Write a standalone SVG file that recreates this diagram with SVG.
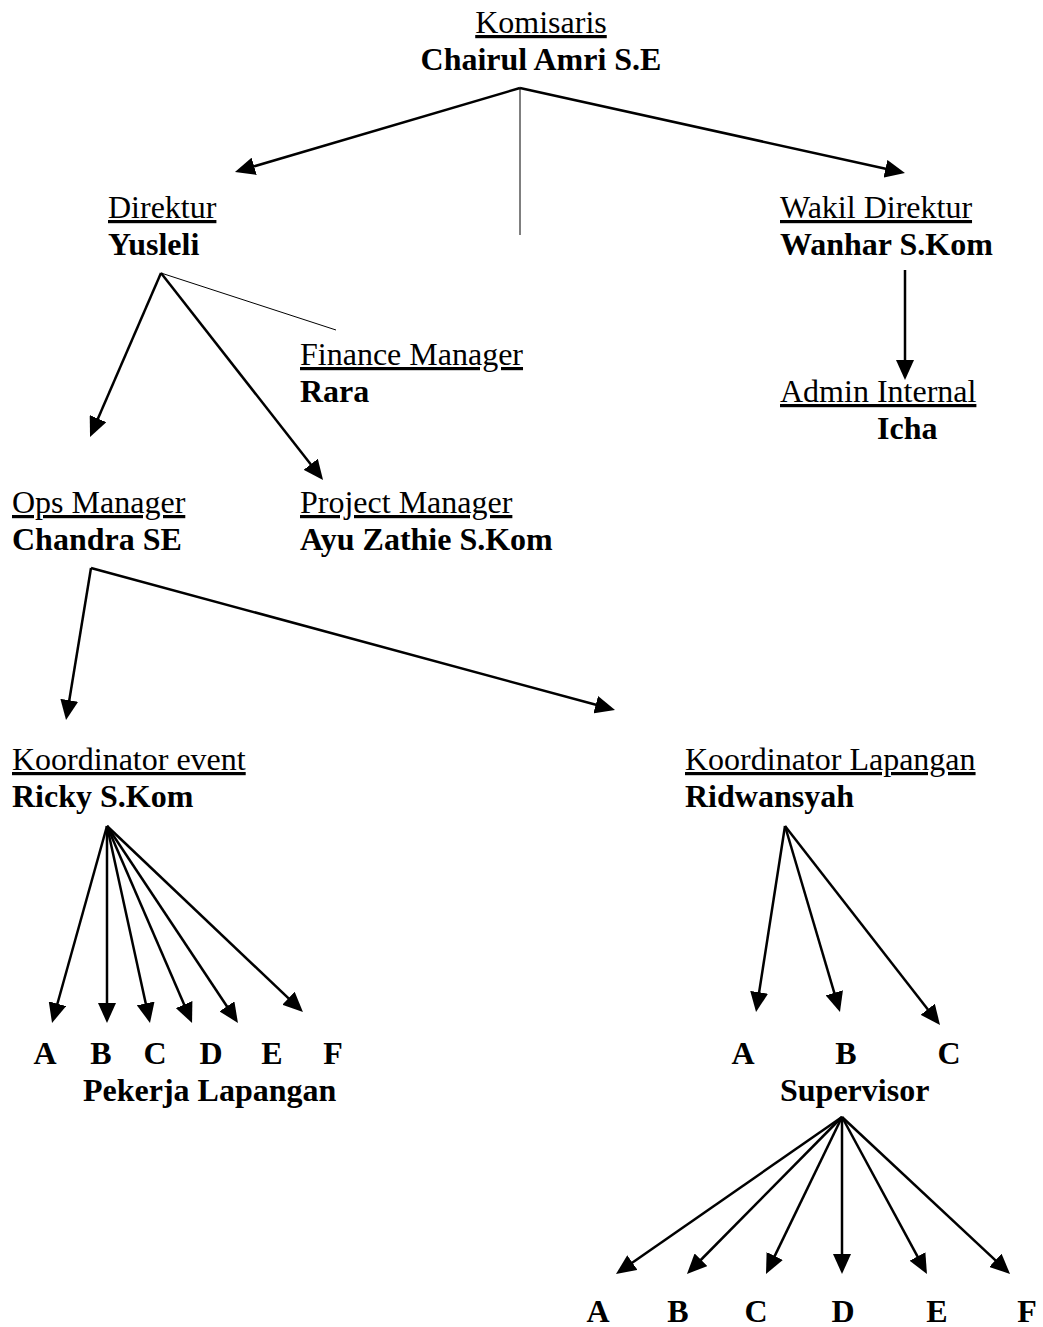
<svg xmlns="http://www.w3.org/2000/svg" width="1043" height="1327" viewBox="0 0 1043 1327">
<style>
text{font-family:"Liberation Serif","Times New Roman",serif;font-size:32px;fill:#000}
.t{text-decoration:underline;text-decoration-thickness:2px}
.b{font-weight:bold}
.m{text-anchor:middle}
.a{stroke:#000;stroke-width:2.5;fill:none;marker-end:url(#ah)}
.thin{stroke:#000;stroke-width:1;fill:none}
</style>
<defs>
<marker id="ah" markerUnits="userSpaceOnUse" markerWidth="20" markerHeight="18" refX="6" refY="9" orient="auto">
<path d="M0,0 L20,9 L0,18 z" fill="#000"/>
</marker>
</defs>
<rect width="1043" height="1327" fill="#fff"/>
<g id="connectors">
<line class="a" x1="520" y1="88" x2="248.4" y2="168"/>
<line class="a" x1="520" y1="88" x2="891.3" y2="170"/>
<line class="thin" x1="520" y1="88" x2="520" y2="235"/>
<line class="a" x1="161" y1="273" x2="95.6" y2="424.1"/>
<line class="a" x1="161" y1="273" x2="314.4" y2="469"/>
<line class="thin" x1="161" y1="273" x2="336" y2="330"/>
<line class="a" x1="905" y1="270" x2="905" y2="366"/>
<line class="a" x1="91" y1="568" x2="68.3" y2="706.2"/>
<line class="a" x1="91" y1="568" x2="601.5" y2="706.3"/>
<line class="a" x1="107" y1="826" x2="55.8" y2="1009.5"/>
<line class="a" x1="107" y1="826" x2="107" y2="1009"/>
<line class="a" x1="107" y1="826" x2="147" y2="1009.3"/>
<line class="a" x1="107" y1="826" x2="186.5" y2="1010.1"/>
<line class="a" x1="107" y1="826" x2="230.2" y2="1011.3"/>
<line class="a" x1="107" y1="826" x2="292.8" y2="1002.4"/>
<line class="a" x1="785" y1="826" x2="758.2" y2="998.2"/>
<line class="a" x1="785" y1="826" x2="836" y2="998.6"/>
<line class="a" x1="785" y1="826" x2="931.4" y2="1014"/>
<line class="a" x1="842" y1="1117" x2="627.5" y2="1266"/>
<line class="a" x1="842" y1="1117" x2="696.8" y2="1264"/>
<line class="a" x1="842" y1="1117" x2="772.1" y2="1261.4"/>
<line class="a" x1="842" y1="1117" x2="842" y2="1260"/>
<line class="a" x1="842" y1="1117" x2="920.3" y2="1261.7"/>
<line class="a" x1="842" y1="1117" x2="999.8" y2="1264.4"/>
</g>
<g id="komisaris"><text class="t m" x="541" y="33">Komisaris</text><text class="b m" x="541" y="70">Chairul Amri S.E</text></g>
<g id="direktur"><text class="t" x="108" y="218">Direktur</text><text class="b" x="108" y="255">Yusleli</text></g>
<g id="wakil-direktur"><text class="t" x="780" y="218">Wakil Direktur</text><text class="b" x="780" y="255">Wanhar S.Kom</text></g>
<g id="finance-manager"><text class="t" x="300" y="365">Finance Manager</text><text class="b" x="300" y="402">Rara</text></g>
<g id="admin-internal"><text class="t" x="780" y="402">Admin Internal</text><text class="b" x="877" y="439">Icha</text></g>
<g id="ops-manager"><text class="t" x="12" y="513">Ops Manager</text><text class="b" x="12" y="550">Chandra SE</text></g>
<g id="project-manager"><text class="t" x="300" y="513">Project Manager</text><text class="b" x="300" y="550">Ayu Zathie S.Kom</text></g>
<g id="koordinator-event"><text class="t" x="12" y="770">Koordinator event</text><text class="b" x="12" y="807">Ricky S.Kom</text></g>
<g id="koordinator-lapangan"><text class="t" x="685" y="770">Koordinator Lapangan</text><text class="b" x="685" y="807">Ridwansyah</text></g>
<g id="pekerja-lapangan">
<text class="b m" x="45" y="1064">A</text><text class="b m" x="101" y="1064">B</text><text class="b m" x="155" y="1064">C</text><text class="b m" x="211" y="1064">D</text><text class="b m" x="272" y="1064">E</text><text class="b m" x="333" y="1064">F</text>
<text class="b" x="83" y="1101">Pekerja Lapangan</text>
</g>
<g id="supervisor">
<text class="b m" x="743" y="1064">A</text><text class="b m" x="846" y="1064">B</text><text class="b m" x="949" y="1064">C</text>
<text class="b" x="780" y="1101">Supervisor</text>
</g>
<g id="supervisor-staff">
<text class="b m" x="598" y="1322">A</text><text class="b m" x="678" y="1322">B</text><text class="b m" x="756" y="1322">C</text><text class="b m" x="843" y="1322">D</text><text class="b m" x="937" y="1322">E</text><text class="b m" x="1027" y="1322">F</text>
</g>
</svg>
